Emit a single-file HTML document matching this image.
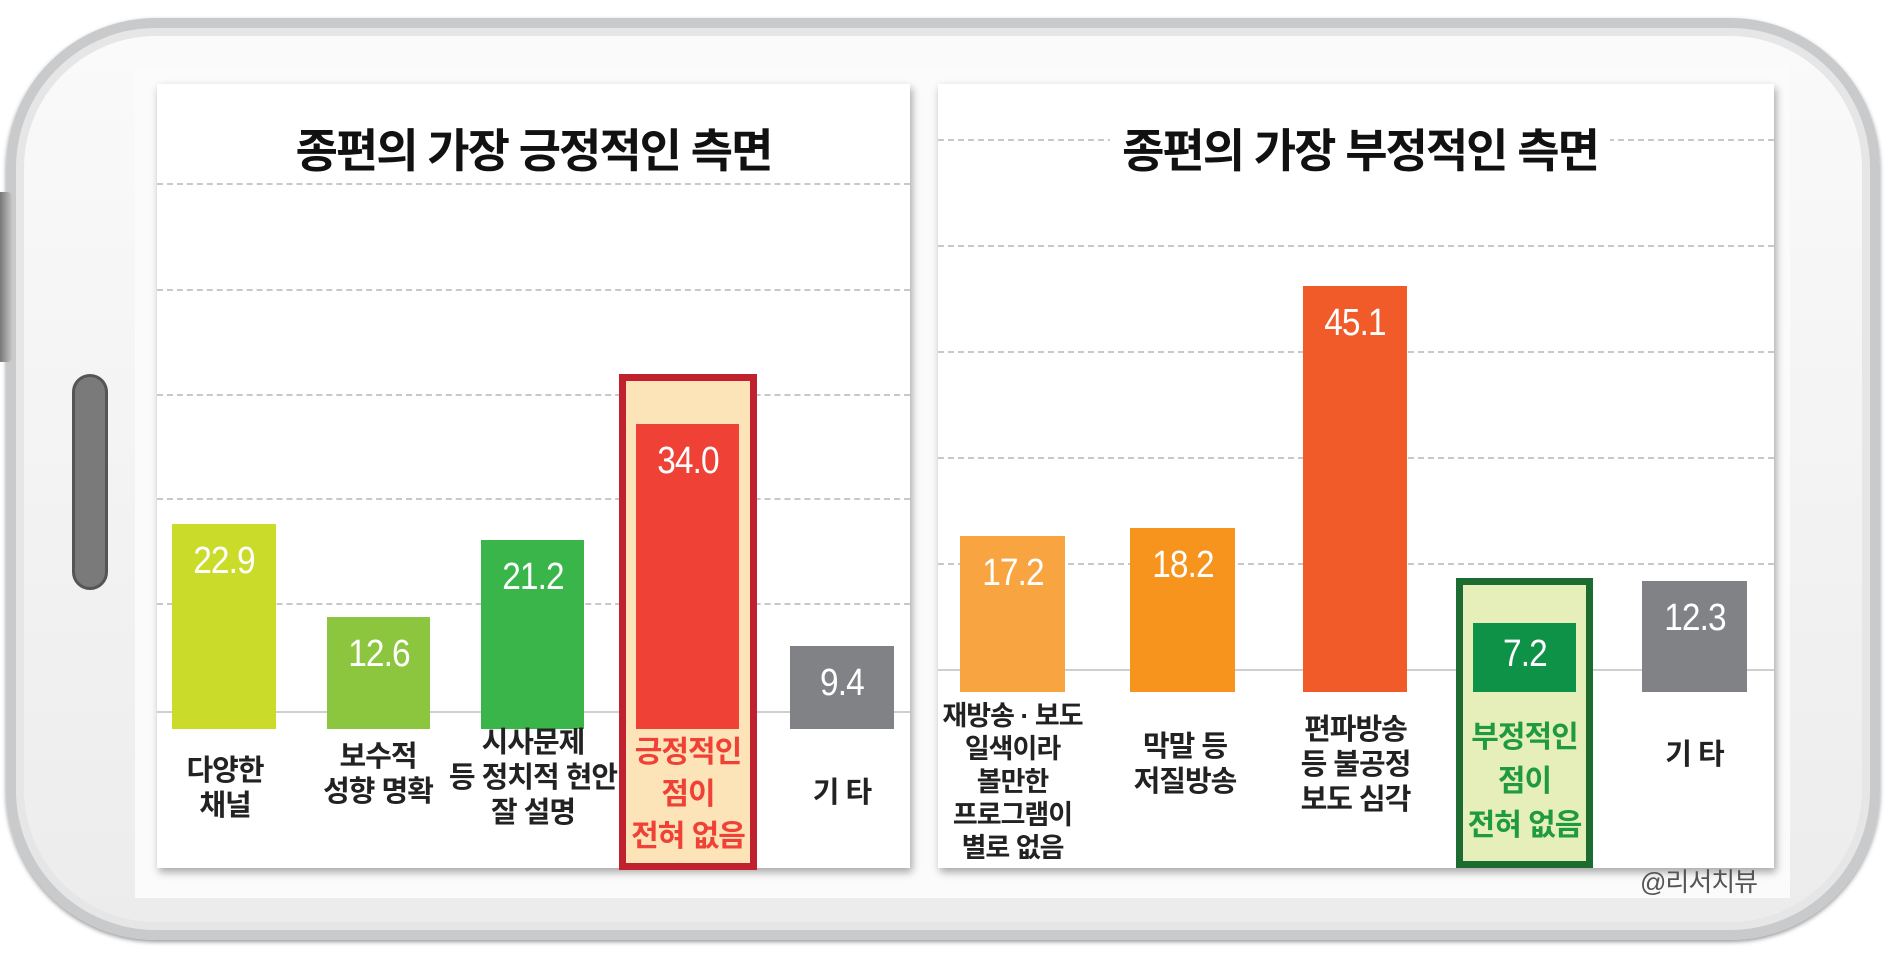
<!DOCTYPE html>
<html><head><meta charset="utf-8"><style>
*{margin:0;padding:0;box-sizing:border-box}
body{width:1890px;height:961px;background:#fff;position:relative;overflow:hidden;font-family:"Liberation Sans","Noto Sans CJK KR",sans-serif}
.a{position:absolute}
.phone{left:6px;top:18px;width:1874px;height:922px;border-radius:150px;background:linear-gradient(#fafafa,#ececec);border:10px solid #c9cacc;box-shadow:inset 0 0 0 8px #e6e6e6,0 2px 4px #999}
.screen{left:135px;top:66px;width:1655px;height:832px;background:#fbfbfb}
.panel{background:#fff;box-shadow:2px 4px 8px rgba(0,0,0,.35)}
.grid{height:0;border-top:2px dashed #c8c8c8}
.base{height:2px;background:#cfcfcf}
.bar{color:#fff;text-align:center;font-size:38px;padding-top:16px;letter-spacing:-1px}
.bar span{display:inline-block;transform:scaleX(.88)}
.lbl{text-align:center;font-size:29px;line-height:35px;font-weight:bold;color:#222;letter-spacing:-1px}
.title{font-size:46px;font-weight:bold;text-align:center;letter-spacing:-2px;color:#111}
</style></head><body>
<div class="a phone"></div>
<div class="a" style="left:0;top:192px;width:13px;height:170px;background:linear-gradient(90deg,#777,#ccc);border-radius:0 6px 6px 0"></div>
<div class="a" style="left:72px;top:374px;width:36px;height:216px;background:#7a7a7a;border-radius:18px;border:3px solid #555"></div>
<div class="a screen"></div>
<div class="a panel" style="left:157px;top:84px;width:753px;height:784px"></div>
<div class="a panel" style="left:938px;top:84px;width:836px;height:784px"></div>
<div class="a grid" style="left:157px;top:183px;width:753px"></div>
<div class="a grid" style="left:157px;top:289px;width:753px"></div>
<div class="a grid" style="left:157px;top:394px;width:753px"></div>
<div class="a grid" style="left:157px;top:498px;width:753px"></div>
<div class="a grid" style="left:157px;top:603px;width:753px"></div>
<div class="a base" style="left:157px;top:711px;width:753px"></div>
<div class="a title" style="left:157px;top:115px;width:753px">종편의 가장 긍정적인 측면</div>
<div class="a grid" style="left:938px;top:139px;width:836px"></div>
<div class="a grid" style="left:938px;top:245px;width:836px"></div>
<div class="a grid" style="left:938px;top:351px;width:836px"></div>
<div class="a grid" style="left:938px;top:457px;width:836px"></div>
<div class="a grid" style="left:938px;top:563px;width:836px"></div>
<div class="a base" style="left:938px;top:669px;width:836px"></div>
<div class="a title" style="left:1110px;top:115px;width:500px;background:#fff">종편의 가장 부정적인 측면</div>
<div class="a bar" style="left:172px;top:524px;width:104px;height:205px;background:#cbdb2a"><span>22.9</span></div>
<div class="a bar" style="left:327px;top:617px;width:103px;height:112px;background:#8cc63f"><span>12.6</span></div>
<div class="a bar" style="left:481px;top:540px;width:103px;height:189px;background:#39b54a"><span>21.2</span></div>
<div class="a" style="left:619px;top:374px;width:138px;height:496px;background:#fde3b8;border:7px solid #c1202f"></div>
<div class="a bar" style="left:636px;top:424px;width:103px;height:305px;background:#ef4136"><span>34.0</span></div>
<div class="a bar" style="left:790px;top:646px;width:104px;height:83px;background:#808285"><span>9.4</span></div>
<div class="a lbl" style="left:150px;top:754px;width:150px">다양한<br>채널</div>
<div class="a lbl" style="left:303px;top:740px;width:150px">보수적<br>성향 명확</div>
<div class="a lbl" style="left:446px;top:726px;width:174px">시사문제<br>등 정치적 현안<br>잘 설명</div>
<div class="a lbl" style="left:619px;top:732px;width:138px;color:#ef4136;font-size:30px;line-height:42px">긍정적인<br>점이<br>전혀 없음</div>
<div class="a lbl" style="left:790px;top:776px;width:104px">기 타</div>
<div class="a bar" style="left:960px;top:536px;width:105px;height:156px;background:#f8a541"><span>17.2</span></div>
<div class="a bar" style="left:1130px;top:528px;width:105px;height:164px;background:#f7941d"><span>18.2</span></div>
<div class="a bar" style="left:1303px;top:286px;width:104px;height:406px;background:#f15a29"><span>45.1</span></div>
<div class="a" style="left:1456px;top:578px;width:137px;height:290px;background:#e6efb9;border:7px solid #1c6b30"></div>
<div class="a bar" style="left:1473px;top:623px;width:103px;height:69px;background:#0e9247;padding-top:10px"><span>7.2</span></div>
<div class="a bar" style="left:1642px;top:581px;width:105px;height:111px;background:#808285"><span>12.3</span></div>
<div class="a lbl" style="left:930px;top:700px;width:165px;font-size:27px;line-height:33px">재방송 · 보도<br>일색이라<br>볼만한<br>프로그램이<br>별로 없음</div>
<div class="a lbl" style="left:1110px;top:730px;width:150px">막말 등<br>저질방송</div>
<div class="a lbl" style="left:1278px;top:713px;width:155px">편파방송<br>등 불공정<br>보도 심각</div>
<div class="a lbl" style="left:1456px;top:716px;width:137px;color:#1f9a3e;font-size:30px;line-height:44px">부정적인<br>점이<br>전혀 없음</div>
<div class="a lbl" style="left:1642px;top:738px;width:105px">기 타</div>
<div class="a" style="left:1640px;top:862px;width:135px;font-size:26px;color:#555;letter-spacing:-1px">@리서치뷰</div>
</body></html>
